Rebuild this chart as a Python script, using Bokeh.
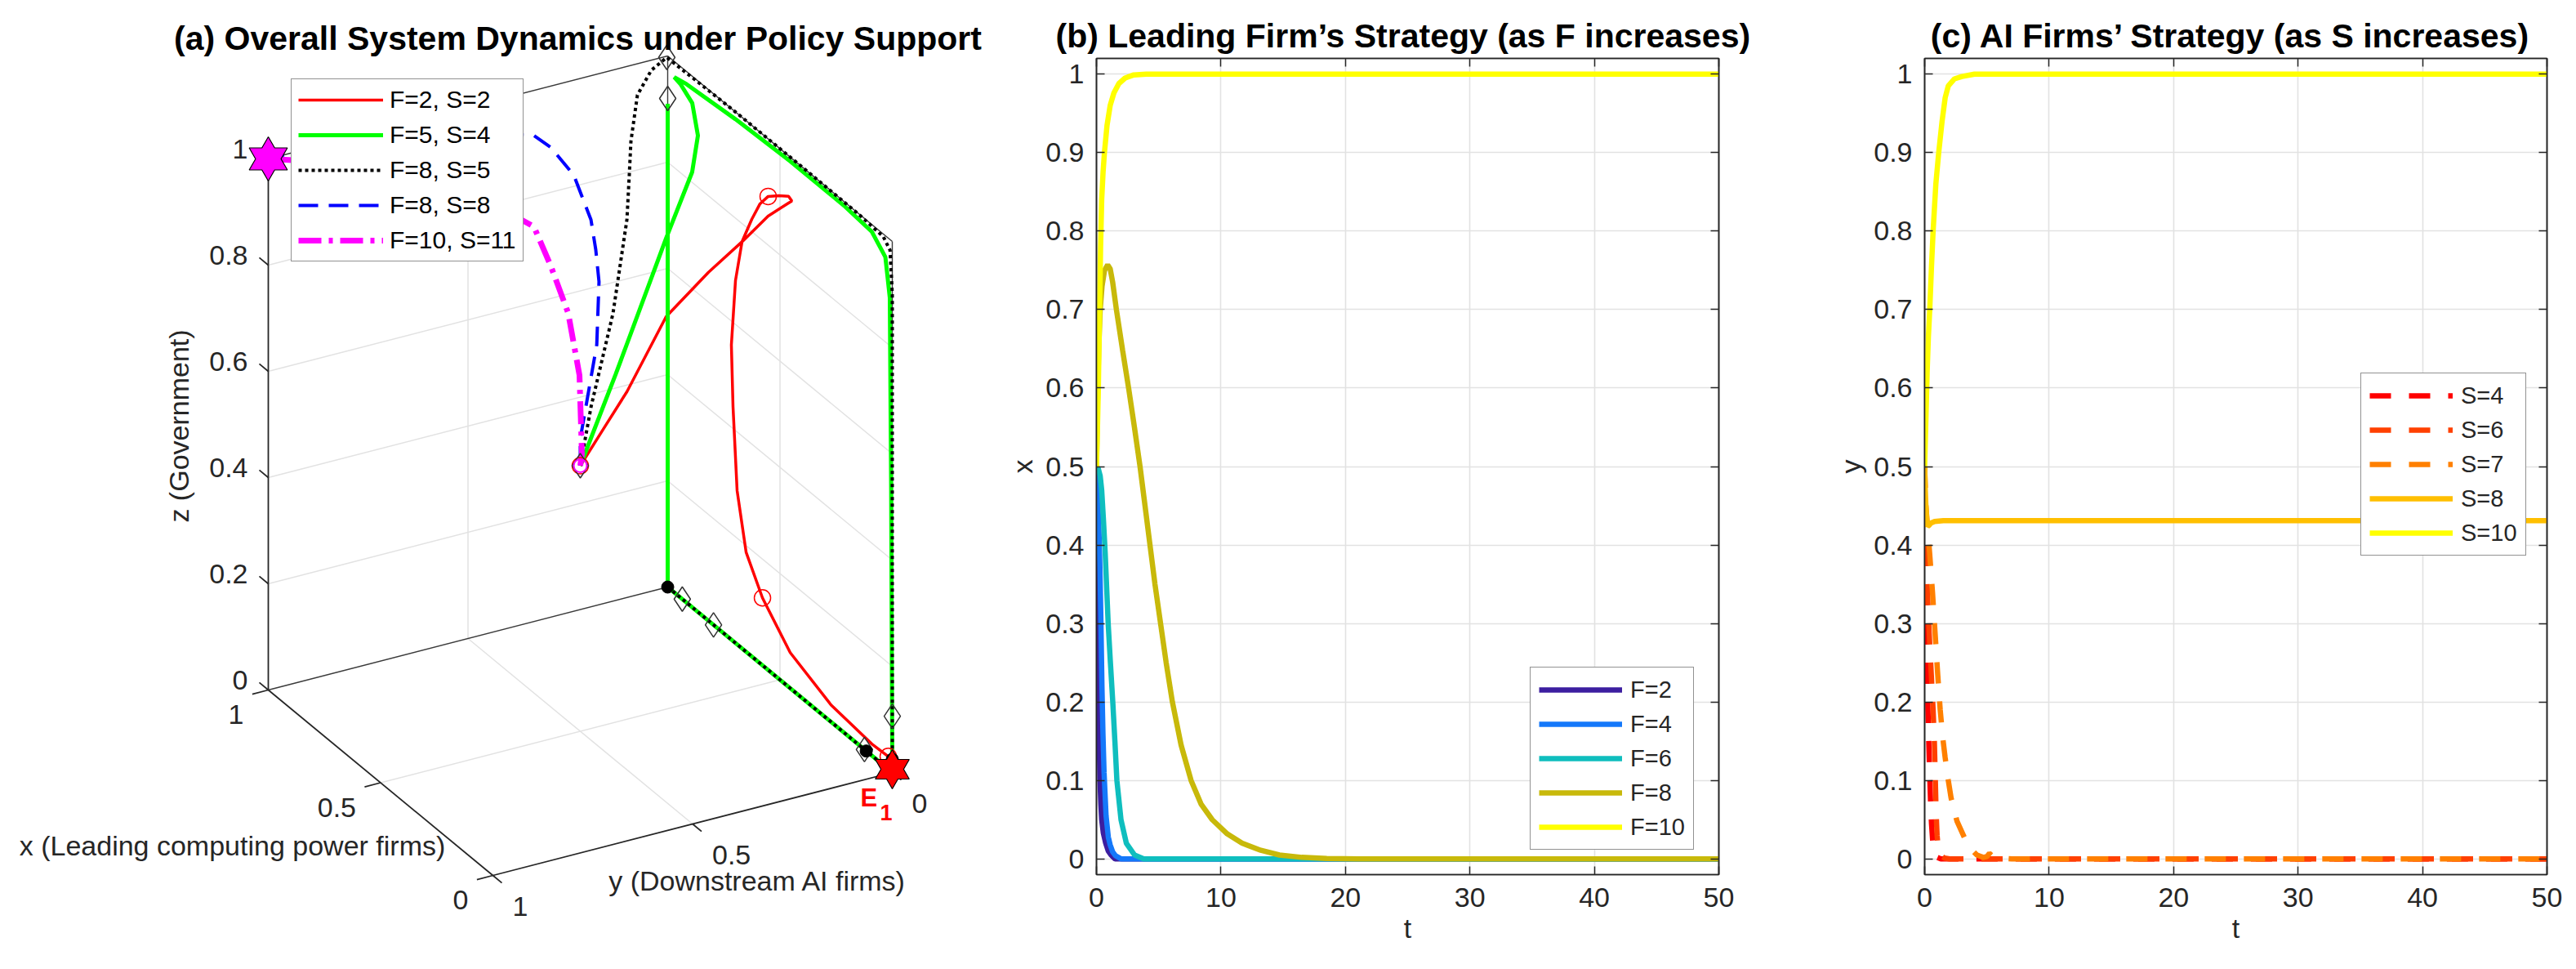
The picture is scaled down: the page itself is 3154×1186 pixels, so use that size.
import numpy as np
from bokeh.plotting import figure
from bokeh.layouts import row, column
from bokeh.models import (Range1d, FixedTicker, CustomJSTickFormatter, LinearAxis,
                          Legend, LegendItem)
from bokeh.core.properties import value
from bokeh.embed import file_html
from bokeh.resources import INLINE

FONT = "Liberation Sans"
INK = "#262626"
GRID = "#E2E2E2"

# ---------------- (a) trajectories in (x, y, z) ----------------
# F=2, S=2
RED_X = [0.5, 0.5, 0.5, 0.5, 0.5, 0.52, 0.48, 0.44, 0.43, 0.45, 0.5, 0.55, 0.585, 0.62, 0.66,
         0.69, 0.71, 0.705, 0.69, 0.65, 0.578, 0.4545, 0.273, 0.091, 0.018, 0.0]
RED_Y = [0.5, 0.44, 0.383, 0.285, 0.179, 0.0838, 0.041, 0.0164, 0.0097, 0.0066, 0.003, 0.0015,
         0.0022, 0.003, 0.005, 0.0046, 0.0036, 0.0023, 0.0005, 0.0005, 0.0, 0.0, 0.0, 0.0, 0.0, 0.0]
RED_Z = [0.5, 0.56, 0.617, 0.739, 0.802, 0.834, 0.888, 0.920, 0.928, 0.929, 0.912, 0.893, 0.867,
         0.826, 0.770, 0.686, 0.558, 0.443, 0.290, 0.188, 0.127, 0.067, 0.032, 0.022, 0.024, 0.005]
RED_MARKS = [0, 11, 20, 24]

# F=5, S=4 (from the centre, and along the back edge)
GREEN_X = [0.5, 0.52, 0.55, 0.6, 0.7, 0.8, 0.9, 0.95, 0.9, 0.693, 0.45, 0.211, 0.087, 0.029,
           0.011, 0.005, 0.002, 0.0]
GREEN_Y = [0.5, 0.40, 0.2574, 0.1636, 0.093, 0.051, 0.0235, 0.0118, 0.0092, 0.003, 0.002, 0.002,
           0.002, 0.001, 0.0, 0.0, 0.0, 0.0]
GREEN_Z = [0.5, 0.646, 0.863, 0.953, 0.973, 0.991, 0.9857, 0.980, 0.9837, 0.9888, 0.994, 0.994,
           0.988, 0.9606, 0.890, 0.53, 0.2, 0.03]
GREEN2_X = [1.0, 1.0, 1.0, 0.5, 0.0]
GREEN2_Y = [0.0, 0.0, 0.0, 0.0, 0.0]
GREEN2_Z = [0.91, 0.5, 0.0, 0.0, 0.0]

# F=8, S=5
BLACK_X = [0.5, 0.5, 0.55, 0.6, 0.7, 0.8, 0.9, 0.96, 0.995, 0.7, 0.4, 0.15, 0.04, 0.01, 0.0,
           0.0, 0.0, 0.0, 0.0]
BLACK_Y = [0.5, 0.473, 0.39, 0.327, 0.265, 0.2045, 0.132, 0.0634, 0.005, 0.0, 0.0, 0.0, 0.0,
           0.0, 0.0, 0.0, 0.0, 0.0, 0.0]
BLACK_Z = [0.5, 0.606, 0.748, 0.895, 0.93, 0.949, 0.987, 0.9994, 1.0, 1.0, 1.0, 0.999, 0.995,
           0.98, 0.9, 0.6, 0.3, 0.106, 0.025]
BLACK_MARKS = [0, 8, 17]
BLACK2_X = [1.0, 0.935, 0.796, 0.5, 0.124, 0.116, 0.0]
BLACK2_Y = [0.0, 0.0, 0.0, 0.0, 0.0, 0.0, 0.0]
BLACK2_Z = [0.0, 0.0, 0.0, 0.0, 0.0, 0.0, 0.0]
BLACK2_MARKS = [1, 2, 4]
EXTRA_DIAMOND = (1.0, 0.0, 0.92)
REST_POINTS_X = [1.0, 0.116, 0.0]
REST_POINTS_Y = [0.0, 0.0, 0.0]
REST_POINTS_Z = [0.0, 0.0, 0.025]

# F=8, S=8
BLUE_X = [0.5, 0.5, 0.48, 0.47, 0.52, 0.6, 0.7, 0.8, 0.87, 0.95, 1.0, 1.0]
BLUE_Y = [0.5, 0.5, 0.47, 0.47, 0.45, 0.417, 0.404, 0.405, 0.4085, 0.6, 0.85, 1.0]
BLUE_Z = [0.5, 0.551, 0.729, 0.851, 0.89, 0.912, 0.959, 0.976, 0.975, 0.99, 1.0, 1.0]

# F=10, S=11
MAG_X = [0.5, 0.5, 0.5, 0.52, 0.55, 0.6, 0.7, 0.85, 0.95, 1.0]
MAG_Y = [0.5, 0.496, 0.502, 0.519, 0.5455, 0.56, 0.65, 0.8, 0.93, 1.0]
MAG_Z = [0.5, 0.521, 0.6705, 0.784, 0.867, 0.927, 0.97, 0.99, 1.0, 1.0]

EQ_STABLE = (0.0, 0.0, 0.0)      # E1
EQ_SUPPORT = (1.0, 1.0, 1.0)

Z_TICKS = [0, 0.2, 0.4, 0.6, 0.8, 1.0]
XY_TICKS = [0, 0.5, 1.0]

# ---------------- (b) leading firm's x(t) ----------------
T_F2 = [0, 0.03, 0.06, 0.09, 0.13, 0.17, 0.22, 0.28, 0.35, 0.42, 0.55, 0.74, 0.95, 1.17, 1.5, 50]
X_F2 = [0.5, 0.47, 0.42, 0.37, 0.3, 0.22, 0.15, 0.1, 0.07, 0.05, 0.033, 0.02, 0.01, 0.005, 0.0, 0.0]
T_F4 = [0, 0.05, 0.12, 0.2, 0.28, 0.36, 0.44, 0.52, 0.61, 0.77, 0.95, 1.1, 1.3, 1.53, 2.0, 50]
X_F4 = [0.5, 0.48, 0.45, 0.417, 0.37, 0.3, 0.22, 0.16, 0.11, 0.055, 0.028, 0.018, 0.009, 0.004, 0.0, 0.0]
T_F6 = [0, 0.15, 0.3, 0.42, 0.55, 0.7, 0.94, 1.12, 1.31, 1.48, 1.64, 1.97, 2.4, 3.06, 3.8, 50]
X_F6 = [0.5, 0.497, 0.488, 0.47, 0.435, 0.39, 0.3, 0.25, 0.2, 0.15, 0.1, 0.05, 0.02, 0.005, 0.0, 0.0]
T_F8 = [0, 0.08, 0.18, 0.3, 0.45, 0.65, 0.9, 1.1, 1.3, 1.6, 2.1, 2.6, 3.05, 3.5, 3.9, 4.3, 4.7,
        5.15, 5.6, 6.1, 6.8, 7.6, 8.4, 9.3, 10.5, 11.7, 13.2, 14.7, 16.5, 18.5, 21, 50]
X_F8 = [0.5, 0.58, 0.65, 0.7, 0.73, 0.75, 0.757, 0.752, 0.735, 0.7, 0.648, 0.598, 0.55, 0.5, 0.45,
        0.4, 0.35, 0.3, 0.25, 0.2, 0.145, 0.1, 0.07, 0.05, 0.032, 0.02, 0.011, 0.005, 0.002,
        0.0005, 0.0, 0.0]
T_F10 = [0, 0.08, 0.15, 0.2, 0.25, 0.33, 0.42, 0.53, 0.64, 0.85, 1.1, 1.4, 1.8, 2.3, 3.0, 4.0, 50]
X_F10 = [0.5, 0.55, 0.6, 0.65, 0.7, 0.78, 0.84, 0.875, 0.9, 0.935, 0.96, 0.976, 0.988, 0.995,
         0.999, 1.0, 1.0]
F_LABELS = ["F=2", "F=4", "F=6", "F=8", "F=10"]
F_COLORS = ["#3C1EA0", "#1478FA", "#0FBEBE", "#C8B90A", "#FFFF00"]

# ---------------- (c) AI firms' y(t) ----------------
T_S4 = [0, 0.03, 0.07, 0.12, 0.18, 0.25, 0.32, 0.4, 0.47, 0.55, 0.65, 0.8, 1.0, 1.3, 50]
Y_S4 = [0.5, 0.43, 0.36, 0.3, 0.25, 0.2, 0.155, 0.11, 0.075, 0.045, 0.022, 0.008, 0.002, 0.0, 0.0]
T_S6 = [0, 0.05, 0.1, 0.2, 0.3, 0.42, 0.55, 0.68, 0.78, 0.86, 0.92, 1.0, 1.1, 1.3, 1.6, 2.0, 50]
Y_S6 = [0.5, 0.44, 0.4, 0.35, 0.31, 0.27, 0.23, 0.19, 0.15, 0.1, 0.06, 0.03, 0.012, 0.004, 0.001, 0.0, 0.0]
T_S7 = [0, 0.1, 0.25, 0.4, 0.63, 0.87, 1.05, 1.25, 1.45, 1.64, 1.9, 2.12, 2.6, 3.2, 3.7, 4.2, 4.7,
        5.0, 5.2, 5.5, 6.0, 7.0, 50]
Y_S7 = [0.5, 0.45, 0.42, 0.39, 0.34, 0.28, 0.235, 0.19, 0.155, 0.13, 0.1, 0.078, 0.048, 0.027,
        0.013, 0.005, 0.002, 0.003, 0.007, 0.003, 0.001, 0.0, 0.0]
T_S8 = [0, 0.05, 0.1, 0.18, 0.25, 0.35, 0.5, 0.8, 1.5, 50]
Y_S8 = [0.5, 0.47, 0.45, 0.43, 0.424, 0.425, 0.428, 0.43, 0.431, 0.431]
T_S10 = [0, 0.1, 0.2, 0.3, 0.41, 0.55, 0.68, 0.9, 1.13, 1.4, 1.65, 1.9, 2.4, 3.0, 4.0, 50]
Y_S10 = [0.5, 0.56, 0.62, 0.665, 0.7, 0.755, 0.8, 0.86, 0.9, 0.94, 0.97, 0.985, 0.994, 0.997, 1.0, 1.0]
S_LABELS = ["S=4", "S=6", "S=7", "S=8", "S=10"]
S_COLORS = ["#FF0000", "#FF4000", "#FF8000", "#FFBF00", "#FFFF00"]
S_DASHED = [True, True, True, False, False]

# ---------------- view of the unit cube (orthographic camera, canvas pixels) ----------------
ORIGIN = (1092.0, 945.0)
AXIS_X = (-275.0, -227.0)
AXIS_Y = (-489.0, 126.0)
AXIS_Z = (0.0, -650.0)


def to_screen(xs, ys, zs):
    """Project cube coordinates; returns canvas x and the negated canvas y."""
    xs, ys, zs = (np.asarray(a, dtype=float) for a in (xs, ys, zs))
    sx = ORIGIN[0] + AXIS_X[0] * xs + AXIS_Y[0] * ys + AXIS_Z[0] * zs
    sy = ORIGIN[1] + AXIS_X[1] * xs + AXIS_Y[1] * ys + AXIS_Z[1] * zs
    return sx, -sy


def segments(pairs):
    lx, ly = [], []
    for a, b in pairs:
        sx, sy = to_screen([a[0], b[0]], [a[1], b[1]], [a[2], b[2]])
        lx.append(list(sx))
        ly.append(list(sy))
    return lx, ly


def hexagram(cx, cy, r):
    ang = np.pi / 2 + np.arange(12) * np.pi / 6
    rad = np.where(np.arange(12) % 2 == 0, r, r / np.sqrt(3))
    return list(cx + rad * np.cos(ang)), list(cy + rad * np.sin(ang))


W_A, W_B, W_C, H = 1220, 1014, 920, 1186

pa = figure(width=W_A, height=H, x_range=Range1d(0, W_A), y_range=Range1d(-H, 0),
            min_border=0, x_axis_location=None, y_axis_location=None,
            toolbar_location=None, output_backend="svg")
pa.outline_line_color = None
pa.grid.visible = False

# grid on the back walls and floor
grid_pairs = []
for z in Z_TICKS[1:-1]:
    grid_pairs += [((1, 1, z), (1, 0, z)), ((1, 0, z), (0, 0, z))]
grid_pairs += [((1, 0.5, 0), (1, 0.5, 1)), ((0.5, 0, 0), (0.5, 0, 1)),
               ((0.5, 1, 0), (0.5, 0, 0)), ((0, 0.5, 0), (1, 0.5, 0))]
gx, gy = segments(grid_pairs)
pa.multi_line(gx, gy, line_color=GRID, line_width=1.5)

box_pairs = [((1, 1, 0), (1, 0, 0)), ((1, 0, 0), (0, 0, 0)), ((1, 0, 0), (1, 0, 1)),
             ((1, 1, 1), (1, 0, 1)), ((1, 0, 1), (0, 0, 1)), ((0, 0, 1), (0, 0, 0))]
bx, by = segments(box_pairs)
pa.multi_line(bx, by, line_color="#3a3a3a", line_width=1.4)

axis_pairs = [((0, 1, 0), (1, 1, 0)), ((0, 1, 0), (0, 0, 0)), ((1, 1, 0), (1, 1, 1))]
tick_pairs = [((1, 1, z), (1.04, 1, z)) for z in Z_TICKS]
tick_pairs += [((v, 1, 0), (v, 1.04, 0)) for v in XY_TICKS]
tick_pairs += [((0, v, 0), (-0.04, v, 0)) for v in XY_TICKS]
ax_x, ax_y = segments(axis_pairs + tick_pairs)
pa.multi_line(ax_x, ax_y, line_color=INK, line_width=1.8)


def fmt(v):
    return ("%g" % v)


def ptext(xs, ys, texts, size="34px", align="left", baseline="middle", color=INK,
          style="normal", angle=0.0):
    pa.text(x=list(xs), y=list(ys), text=texts, angle=angle, text_align=align,
            text_baseline=baseline, text_font=value(FONT), text_font_size=size,
            text_font_style=style, text_color=color)


zx, zy = to_screen([1] * len(Z_TICKS), [1] * len(Z_TICKS), Z_TICKS)
ptext(zx - 25, zy + 12, [fmt(v) for v in Z_TICKS], align="right")
xx, xy = to_screen(XY_TICKS, [1] * 3, [0] * 3)
ptext(xx - 30, xy - 30, [fmt(v) for v in XY_TICKS], align="right")
yx, yy = to_screen([0] * 3, XY_TICKS, [0] * 3)
ptext(yx + 24, yy - 38, [fmt(v) for v in XY_TICKS], align="left")

ptext([284], [-1034], ["x (Leading computing power firms)"], align="center")
ptext([927], [-1077], ["y (Downstream AI firms)"], align="center")
ptext([218], [-521], ["z (Government)"], align="center", angle=np.pi / 2)

# trajectories
rx, ry = to_screen(RED_X, RED_Y, RED_Z)
r_red = pa.line(rx, ry, line_color="#FF0000", line_width=3.5)
g2x, g2y = to_screen(GREEN2_X, GREEN2_Y, GREEN2_Z)
pa.line(g2x, g2y, line_color="#00FF00", line_width=5)
gx_, gy_ = to_screen(GREEN_X, GREEN_Y, GREEN_Z)
r_green = pa.line(gx_, gy_, line_color="#00FF00", line_width=5)
kx, ky = to_screen(BLACK_X, BLACK_Y, BLACK_Z)
r_black = pa.line(kx, ky, line_color="#000000", line_width=4, line_dash="4 4")
k2x, k2y = to_screen(BLACK2_X, BLACK2_Y, BLACK2_Z)
pa.line(k2x, k2y, line_color="#000000", line_width=4, line_dash="4 4")
ux, uy = to_screen(BLUE_X, BLUE_Y, BLUE_Z)
r_blue = pa.line(ux, uy, line_color="#0000FF", line_width=4, line_dash="24 13")
mx, my = to_screen(MAG_X, MAG_Y, MAG_Z)
r_mag = pa.line(mx, my, line_color="#FF00FF", line_width=7, line_dash="28 9 5 9")

# markers
pa.scatter(rx[RED_MARKS], ry[RED_MARKS], marker="circle", size=20, fill_color=None,
           line_color="#FF0000", line_width=1.5)
dmx = list(kx[BLACK_MARKS]) + list(k2x[BLACK2_MARKS])
dmy = list(ky[BLACK_MARKS]) + list(k2y[BLACK2_MARKS])
ex_, ey_ = to_screen([EXTRA_DIAMOND[0]], [EXTRA_DIAMOND[1]], [EXTRA_DIAMOND[2]])
dmx += list(ex_)
dmy += list(ey_)
pa.scatter(dmx, dmy, marker="diamond", size=30, fill_color=None, line_color="#333333",
           line_width=1.5)
px_, py_ = to_screen(REST_POINTS_X, REST_POINTS_Y, REST_POINTS_Z)
pa.scatter(px_, py_, marker="circle", size=15, fill_color="#000000", line_color="#000000")
pa.scatter([mx[0]], [my[0]], marker="circle", size=16, fill_color=None, line_color="#FF00FF",
           line_width=2)

sx1, sy1 = to_screen([EQ_SUPPORT[0]], [EQ_SUPPORT[1]], [EQ_SUPPORT[2]])
hx, hy = hexagram(sx1[0], sy1[0], 27)
pa.patch(hx, hy, fill_color="#FF00FF", line_color="#000000", line_width=1.2)
sx0, sy0 = to_screen([EQ_STABLE[0]], [EQ_STABLE[1]], [EQ_STABLE[2]])
hx, hy = hexagram(sx0[0], sy0[0] + 4, 24)
pa.patch(hx, hy, fill_color="#FF0000", line_color="#000000", line_width=1.2)
ptext([sx0[0] - 39], [sy0[0] - 31], ["E"], size="31px", baseline="alphabetic",
      color="#FF0000", style="bold")
ptext([sx0[0] - 15], [sy0[0] - 49], ["1"], size="27px", baseline="alphabetic",
      color="#FF0000", style="bold")

ptext([707], [-46], ["(a) Overall System Dynamics under Policy Support"], size="41px",
      align="center", baseline="alphabetic", color="#000000", style="bold")

legend_a = Legend(items=[LegendItem(label="F=2, S=2", renderers=[r_red]),
                         LegendItem(label="F=5, S=4", renderers=[r_green]),
                         LegendItem(label="F=8, S=5", renderers=[r_black]),
                         LegendItem(label="F=8, S=8", renderers=[r_blue]),
                         LegendItem(label="F=10, S=11", renderers=[r_mag])],
                  location=(356, 866), label_text_font=FONT, label_text_font_size="30px",
                  label_text_color="#000000", glyph_width=104, glyph_height=34,
                  label_height=34, label_standoff=8, padding=8, spacing=9, margin=0,
                  border_line_color=INK, border_line_width=1.5,
                  background_fill_color="white", background_fill_alpha=1.0)
pa.add_layout(legend_a)

# ---------------- time panels ----------------
TICK_FMT = "return String(Math.round(tick * 10) / 10);"
T_TICKS = [0, 10, 20, 30, 40, 50]
V_TICKS = [round(0.1 * i, 1) for i in range(11)]


def style_axis(ax, ticks, show_labels):
    ax.ticker = FixedTicker(ticks=ticks)
    ax.formatter = CustomJSTickFormatter(code=TICK_FMT if show_labels else "return '';")
    ax.major_tick_in = 10
    ax.major_tick_out = 0
    ax.minor_tick_in = 0
    ax.minor_tick_out = 0
    ax.axis_line_color = INK
    ax.axis_line_width = 1.6
    ax.major_tick_line_color = INK
    ax.major_tick_line_width = 1.5
    ax.major_label_text_font = FONT
    ax.major_label_text_font_size = "34px"
    ax.major_label_text_color = INK
    ax.axis_label_text_font = FONT
    ax.axis_label_text_font_size = "34px"
    ax.axis_label_text_font_style = "normal"
    ax.axis_label_text_color = INK


def strategy_panel(width, right, title_text, title_offset, ylabel):
    p = figure(width=width, height=H, x_range=Range1d(0, 50), y_range=Range1d(-0.02, 1.02),
               min_border_left=122, min_border_right=right, min_border_top=71,
               min_border_bottom=116, toolbar_location=None, output_backend="svg")
    p.title.text = title_text
    p.title.align = "center"
    p.title.text_font = FONT
    p.title.text_font_size = "41px"
    p.title.text_font_style = "bold"
    p.title.text_color = "#000000"
    p.title.offset = title_offset
    p.title.standoff = 10
    style_axis(p.xaxis[0], T_TICKS, True)
    style_axis(p.yaxis[0], V_TICKS, True)
    p.xaxis[0].axis_label = "t"
    p.xaxis[0].major_label_standoff = 16
    p.xaxis[0].axis_label_standoff = 4
    p.yaxis[0].axis_label = ylabel
    p.yaxis[0].major_label_standoff = 15
    p.yaxis[0].axis_label_standoff = 6
    top = LinearAxis()
    style_axis(top, T_TICKS, False)
    top.major_label_standoff = 0
    p.add_layout(top, "above")
    rgt = LinearAxis()
    style_axis(rgt, V_TICKS, False)
    rgt.major_label_standoff = 0
    p.add_layout(rgt, "right")
    p.xgrid.ticker = FixedTicker(ticks=T_TICKS)
    p.ygrid.ticker = FixedTicker(ticks=V_TICKS)
    p.grid.grid_line_color = GRID
    p.grid.grid_line_width = 1.6
    p.outline_line_color = INK
    p.outline_line_width = 1.6
    return p


pb = strategy_panel(W_B, 130, "(b)  Leading Firm\u2019s Strategy (as F increases)", -6, "x")
for t, v, lab, col in zip([T_F2, T_F4, T_F6, T_F8, T_F10], [X_F2, X_F4, X_F6, X_F8, X_F10],
                          F_LABELS, F_COLORS):
    pb.line(t, v, line_color=col, line_width=6.5, legend_label=lab)

pc = strategy_panel(W_C, 36, "(c)  AI Firms\u2019 Strategy (as S increases)", 15, "y")
for t, v, lab, col, dashed in zip([T_S4, T_S6, T_S7, T_S8, T_S10],
                                  [Y_S4, Y_S6, Y_S7, Y_S8, Y_S10], S_LABELS, S_COLORS, S_DASHED):
    pc.line(t, v, line_color=col, line_width=6.5, legend_label=lab,
            line_dash="26 22" if dashed else "solid")

for p, loc in ((pb, (531, 30)), (pc, (534, 390))):
    lg = p.legend[0]
    lg.location = loc
    lg.label_text_font = FONT
    lg.label_text_font_size = "29px"
    lg.label_text_color = INK
    lg.glyph_width = 102
    lg.glyph_height = 34
    lg.label_height = 34
    lg.label_standoff = 10
    lg.padding = 10
    lg.spacing = 8
    lg.margin = 0
    lg.border_line_color = INK
    lg.border_line_width = 1.5
    lg.background_fill_alpha = 1.0

layout = row(column(pa), column(pb), column(pc))
open("out.html", "w").write(file_html(layout, INLINE, "Policy support dynamics"))
